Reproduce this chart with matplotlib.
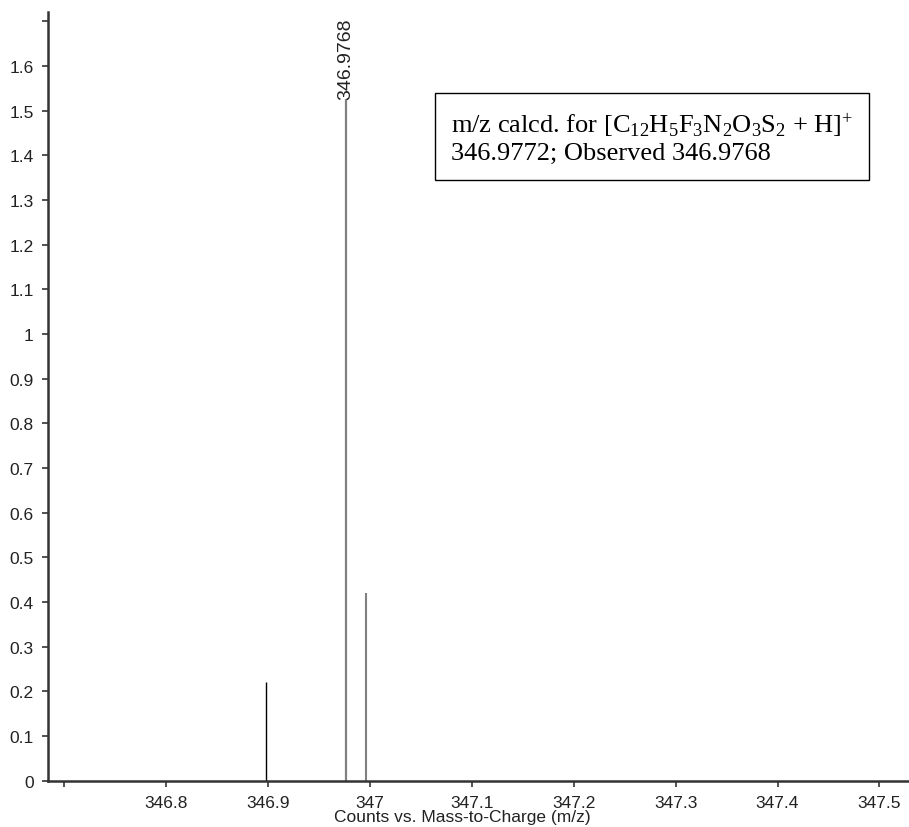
#!usr/bin/env python3

import matplotlib
matplotlib.use("Agg")
import matplotlib.pyplot as plt

# Peaks (m/z, counts x10^?)
mz = [346.898, 346.9768, 346.9965]
counts = [0.22, 1.526, 0.42]
peak_colors = ["#000000", "#808080", "#808080"]
peak_widths = [1.0, 1.6, 1.5]
peak_label = "346.9768"

# Axes ticks
xticks = [346.7, 346.8, 346.9, 347.0, 347.1, 347.2, 347.3, 347.4, 347.5]
xticklabels = ["", "346.8", "346.9", "347", "347.1", "347.2", "347.3", "347.4", "347.5"]
yticks = [0, 0.1, 0.2, 0.3, 0.4, 0.5, 0.6, 0.7, 0.8, 0.9, 1.0, 1.1, 1.2, 1.3, 1.4, 1.5, 1.6, 1.7]
yticklabels = ["0", "0.1", "0.2", "0.3", "0.4", "0.5", "0.6", "0.7", "0.8", "0.9",
               "1", "1.1", "1.2", "1.3", "1.4", "1.5", "1.6", ""]

plt.rcParams["font.family"] = ["Liberation Sans", "DejaVu Sans"]
plt.rcParams["mathtext.fontset"] = "custom"
plt.rcParams["mathtext.rm"] = "Liberation Serif"
plt.rcParams["mathtext.it"] = "Liberation Serif:italic"

fig = plt.figure(figsize=(9.09, 8.28), dpi=100)
ax = fig.add_axes([0.0525, 0.0559, 0.9475, 0.9281])

ax.vlines(mz, 0, counts, colors=peak_colors, linewidths=peak_widths)
ax.text(mz[1], counts[1], peak_label, rotation=90, ha="center", va="bottom",
        fontsize=14, color="#222222")

ax.set_xlim(346.684, 347.529)
ax.set_ylim(0, 1.72)
ax.set_xticks(xticks)
ax.set_xticklabels(xticklabels)
ax.set_yticks(yticks)
ax.set_yticklabels(yticklabels)
ax.tick_params(axis="both", labelsize=12.5, labelcolor="#222222", color="#333333",
               length=4, width=1.2, pad=6)

for side in ["top", "right"]:
    ax.spines[side].set_visible(False)
for side in ["left", "bottom"]:
    ax.spines[side].set_color("#333333")
    ax.spines[side].set_linewidth(1.8)

ax.set_xlabel("Counts vs. Mass-to-Charge (m/z)", fontsize=12.5, color="#222222", va="center")
ax.xaxis.set_label_coords(0.481, -0.046)

# Formula box
txt = ("m/z calcd. for [C$_{12}$H$_5$F$_3$N$_2$O$_3$S$_2$ + H]$^{+}$\n"
       "346.9772; Observed 346.9768")
ax.text(0.468, 0.837, txt, transform=ax.transAxes, ha="left", va="center",
        fontsize=19, family="Liberation Serif", linespacing=1.2,
        bbox=dict(boxstyle="square,pad=0.6", facecolor="white", edgecolor="black", linewidth=1.0))

fig.savefig("out.png", dpi=100)
